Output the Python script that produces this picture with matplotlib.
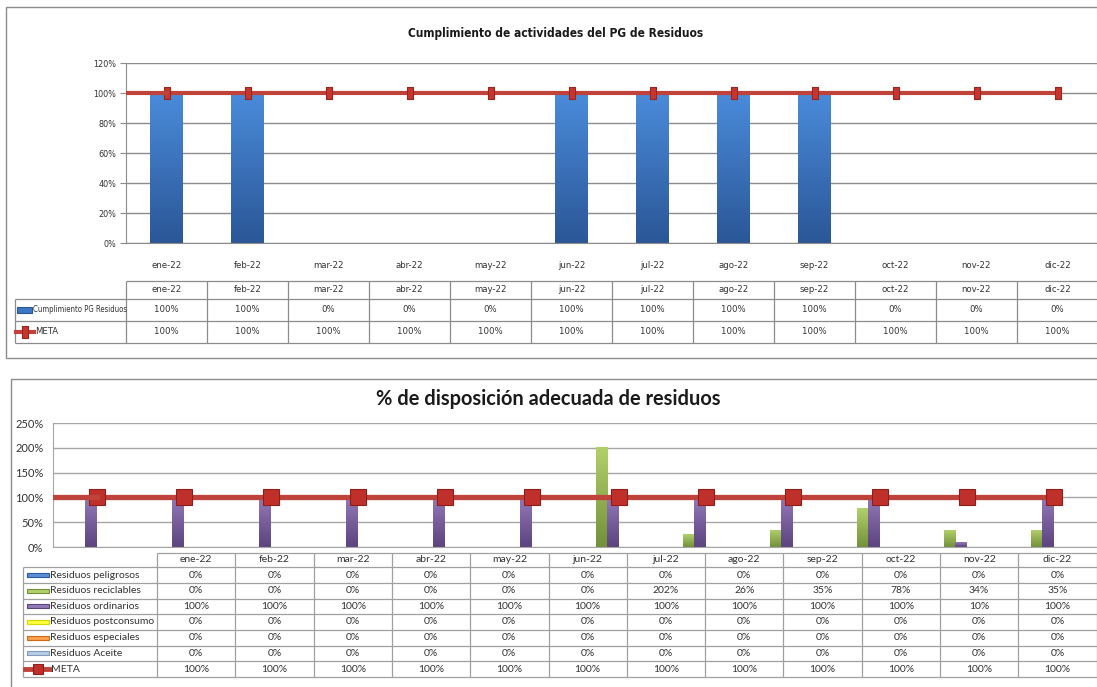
import numpy as np
import matplotlib
matplotlib.use('Agg')
import matplotlib.pyplot as plt
from matplotlib import font_manager as fm
from matplotlib.colors import LinearSegmentedColormap
from matplotlib.patches import Rectangle

# datos
meses = ['ene-22', 'feb-22', 'mar-22', 'abr-22', 'may-22', 'jun-22',
         'jul-22', 'ago-22', 'sep-22', 'oct-22', 'nov-22', 'dic-22']

cumplimiento_pg = [100, 100, 0, 0, 0, 100, 100, 100, 100, 0, 0, 0]
meta_pg = [100, 100, 100, 100, 100, 100, 100, 100, 100, 100, 100, 100]

series_disp = ['Residuos peligrosos', 'Residuos reciclables', 'Residuos ordinarios',
               'Residuos postconsumo', 'Residuos especiales', 'Residuos Aceite']
peligrosos = [0, 0, 0, 0, 0, 0, 0, 0, 0, 0, 0, 0]
reciclables = [0, 0, 0, 0, 0, 0, 202, 26, 35, 78, 34, 35]
ordinarios = [100, 100, 100, 100, 100, 100, 100, 100, 100, 100, 10, 100]
postconsumo = [0, 0, 0, 0, 0, 0, 0, 0, 0, 0, 0, 0]
especiales = [0, 0, 0, 0, 0, 0, 0, 0, 0, 0, 0, 0]
aceite = [0, 0, 0, 0, 0, 0, 0, 0, 0, 0, 0, 0]
meta_disp = [100, 100, 100, 100, 100, 100, 100, 100, 100, 100, 100, 100]

valores_disp = [peligrosos, reciclables, ordinarios, postconsumo, especiales, aceite]
# (color claro arriba, color oscuro abajo)
colores_disp = [('#5A8FD6', '#2C5A9C'), ('#B2D06A', '#73913A'), ('#9379B8', '#5C447F'),
                ('#FFFF40', '#D8D800'), ('#F9A24F', '#D06A10'), ('#B8CCE4', '#7F9CC0')]


# fuente estrecha para el primer grafico (si hay alguna instalada)
def fuente_estrecha(bold=False):
    cands = []
    for f in fm.fontManager.ttflist:
        nm = f.name.lower()
        st = str(f.stretch).lower()
        if ('narrow' in nm or 'condensed' in nm or 'condensed' in st) and f.style == 'normal':
            w = f.weight if isinstance(f.weight, int) else (700 if 'bold' in str(f.weight) else 400)
            cands.append((abs(w - (700 if bold else 400)), f.fname))
    if cands:
        cands.sort()
        return fm.FontProperties(fname=cands[0][1])
    return fm.FontProperties(family='DejaVu Sans', weight='bold' if bold else 'normal')


NARROW = fuente_estrecha()
NARROW_B = fuente_estrecha(True)
CAL = ['Lato', 'DejaVu Sans']
ROJO = '#C0433B'
GRIS_T = '#333333'

W, H = 1097, 687
fig = plt.figure(figsize=(10.97, 6.87), dpi=100)

# capa de fondo en pixeles para marcos y tablas
ov = fig.add_axes([0, 0, 1, 1])
ov.set_xlim(0, W)
ov.set_ylim(H, 0)
ov.axis('off')


def px_axes(l, t, r, b):
    a = fig.add_axes([l / W, 1 - b / H, (r - l) / W, (b - t) / H])
    a.set_facecolor('none')
    return a


def gradiente(ax, bars, c1, c2):
    cmap = LinearSegmentedColormap.from_list('g', [c2, c1])
    grad = np.linspace(0, 1, 64).reshape(-1, 1)
    for b in bars:
        if b.get_height() <= 0:
            continue
        x0, y0 = b.get_x(), b.get_y()
        im = ax.imshow(grad, extent=[x0, x0 + b.get_width(), y0, y0 + b.get_height()],
                       origin='lower', aspect='auto', cmap=cmap, zorder=2)
        im.set_clip_path(b)


def linea(x1, x2, y1, y2, c='#8C8C8C', lw=0.9):
    ov.plot([x1, x2], [y1, y2], color=c, lw=lw, solid_capstyle='butt')


def txt1(xx, yy, s, ha='center', size=6.8):
    ov.text(xx, yy, s, ha=ha, va='center', fontproperties=NARROW, fontsize=size, color=GRIS_T)


rect_marker = [(-0.5, -1), (0.5, -1), (0.5, 1), (-0.5, 1), (-0.5, -1)]

# ---------------- grafico 1 ----------------
ov.add_patch(Rectangle((6, 7), 1100, 351, fill=False, ec='#8C8C8C', lw=1))
ov.text(556, 33, 'Cumplimiento de actividades del PG de Residuos', ha='center', va='center',
        fontproperties=NARROW_B, fontsize=8.6, color='#1a1a1a')

ax1 = px_axes(126, 63, 1098, 243)
x = np.arange(len(meses))
b1 = ax1.bar(x, cumplimiento_pg, width=0.4, color='#3B77C4', linewidth=0, zorder=2)
gradiente(ax1, b1, '#4A8BDA', '#2B5797')
ax1.plot(x, meta_pg, color=ROJO, lw=3, zorder=3, marker=rect_marker, ms=8,
         mfc='#C8352E', mec='#9A2520', mew=0.8)
ax1.plot([-0.5, x[0]], [meta_pg[0], meta_pg[0]], color=ROJO, lw=3, zorder=3)
ax1.set_xlim(-0.5, len(meses) - 0.5)
ax1.set_ylim(0, 120)
ax1.set_yticks(range(0, 121, 20))
ax1.set_yticklabels([f'{v}%' for v in range(0, 121, 20)], fontproperties=NARROW, fontsize=6.5, color=GRIS_T)
ax1.set_xticks(x)
ax1.set_xticklabels(meses, fontproperties=NARROW, fontsize=6.8, color=GRIS_T)
ax1.tick_params(axis='x', length=0, pad=13)
ax1.tick_params(axis='y', length=4, color='#8C8C8C', pad=3)
ax1.grid(axis='y', color='#8C8C8C', lw=1)
ax1.set_axisbelow(True)
for s in ['top', 'right']:
    ax1.spines[s].set_visible(False)
for s in ['left', 'bottom']:
    ax1.spines[s].set_color('#8C8C8C')

# tabla 1
cx0, cw = 126, 81
rows1 = [281, 299, 321, 343]
linea(cx0, 1097, rows1[0], rows1[0])
for r in rows1[1:]:
    linea(15, 1097, r, r)
linea(15, 15, rows1[1], rows1[3])
for i in range(len(meses) + 1):
    linea(cx0 + cw * i, cx0 + cw * i, rows1[0], rows1[3])
for i, m in enumerate(meses):
    xc = cx0 + cw * (i + 0.5)
    txt1(xc, (rows1[0] + rows1[1]) / 2, m)
    txt1(xc, (rows1[1] + rows1[2]) / 2, f'{cumplimiento_pg[i]}%')
    txt1(xc, (rows1[2] + rows1[3]) / 2, f'{meta_pg[i]}%')
ov.add_patch(Rectangle((17, 307), 15, 6, fc='#3B77C4', ec='#2B5797', lw=0.8))
txt1(33, 310, 'Cumplimiento PG Residuos', ha='left', size=5.6)
ov.plot([16, 34], [332, 332], color=ROJO, lw=3)
ov.plot([25], [332], marker=rect_marker, ms=8, mfc='#C8352E', mec='#9A2520', mew=0.8)
txt1(35, 332, 'META', ha='left')

# ---------------- grafico 2 ----------------
ov.add_patch(Rectangle((11, 379), 1100, 320, fill=False, ec='#8C8C8C', lw=1))
ov.text(548, 399, '% de disposición adecuada de residuos', ha='center', va='center',
        fontsize=14.4, fontweight='bold', family=CAL, color='#1a1a1a')

ax2 = px_axes(53, 423, 1097, 547)
w = 0.13
for i, (nombre, vals) in enumerate(zip(series_disp, valores_disp)):
    bb = ax2.bar(x + (i - 2.5) * w, vals, width=w, color=colores_disp[i][0], linewidth=0, zorder=2)
    gradiente(ax2, bb, colores_disp[i][0], colores_disp[i][1])
ax2.plot(x, meta_disp, color=ROJO, lw=3.8, zorder=3, marker='s', ms=11,
         mfc='#C0302A', mec='#8E1E1A', mew=0.8)
ax2.plot([-0.5, x[0]], [meta_disp[0], meta_disp[0]], color=ROJO, lw=3.8, zorder=3)
ax2.set_xlim(-0.5, len(meses) - 0.5)
ax2.set_ylim(0, 250)
ax2.set_yticks(range(0, 251, 50))
ax2.set_yticklabels([f'{v}%' for v in range(0, 251, 50)], family=CAL, fontsize=8, color=GRIS_T)
ax2.set_xticks([])
ax2.tick_params(axis='y', length=0, pad=7)
ax2.grid(axis='y', color='#A6A6A6', lw=1)
ax2.set_axisbelow(True)
for s in ['top', 'right']:
    ax2.spines[s].set_visible(False)
for s in ['left', 'bottom']:
    ax2.spines[s].set_color('#A6A6A6')

# tabla 2
tx0, tw = 157, 78.3
rows2 = [553, 567, 583, 598.5, 614, 630, 645.5, 661, 677]
linea(tx0, 1097, rows2[0], rows2[0], c='#A0A0A0')
for r in rows2[1:]:
    linea(23, 1097, r, r, c='#A0A0A0')
linea(23, 23, rows2[1], rows2[-1], c='#A0A0A0')
for i in range(len(meses) + 1):
    linea(tx0 + tw * i, tx0 + tw * i, rows2[0], rows2[-1], c='#A0A0A0')
filas = valores_disp + [meta_disp]
for i, m in enumerate(meses):
    xc = tx0 + tw * (i + 0.5)
    ov.text(xc, (rows2[0] + rows2[1]) / 2, m, ha='center', va='center', family=CAL, fontsize=7.5, color=GRIS_T)
    for j, vals in enumerate(filas):
        ov.text(xc, (rows2[j + 1] + rows2[j + 2]) / 2, f'{vals[i]}%', ha='center', va='center',
                family=CAL, fontsize=7.5, color=GRIS_T)
for j, nombre in enumerate(series_disp):
    yc = (rows2[j + 1] + rows2[j + 2]) / 2
    ov.add_patch(Rectangle((27, yc - 2), 22, 4, fc=colores_disp[j][0], ec=colores_disp[j][1], lw=0.8))
    ov.text(50, yc, nombre, ha='left', va='center', family=CAL, fontsize=7.5, color=GRIS_T)
yc = (rows2[7] + rows2[8]) / 2
ov.plot([25, 50], [yc, yc], color=ROJO, lw=3.5)
ov.plot([38], [yc], marker='s', ms=7, mfc='#C0302A', mec='#8E1E1A', mew=0.8)
ov.text(51, yc, 'META', ha='left', va='center', family=CAL, fontsize=7.5, color=GRIS_T)

fig.savefig('out.png', dpi=100)
